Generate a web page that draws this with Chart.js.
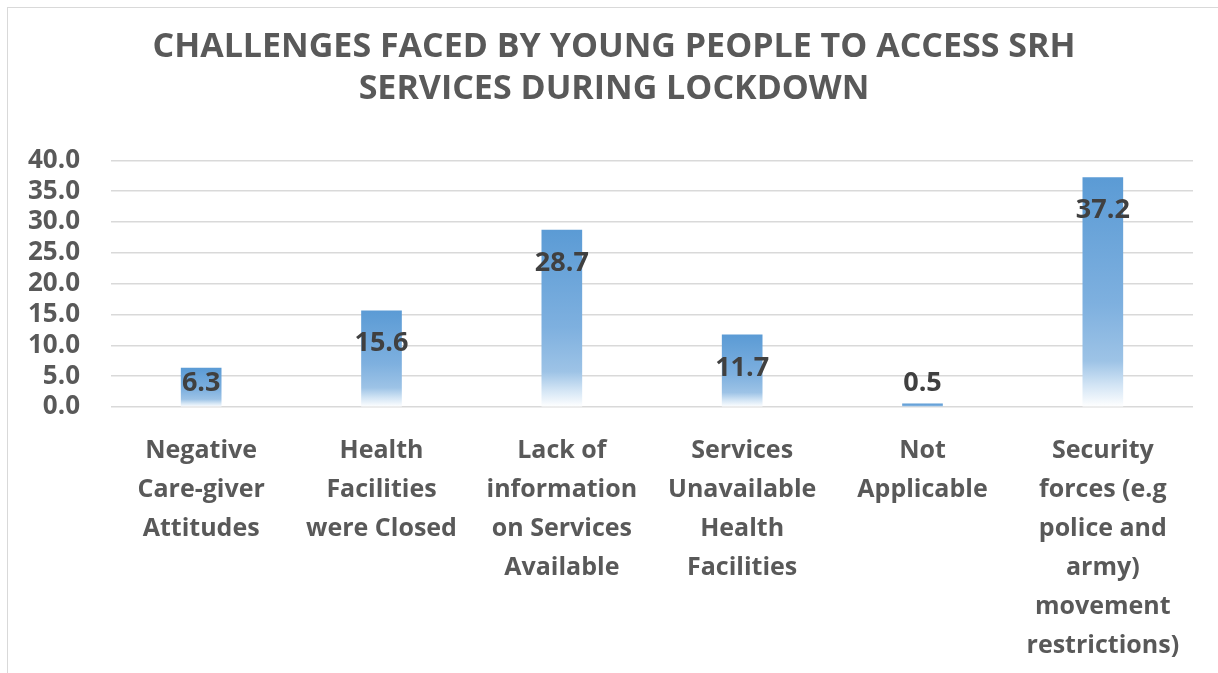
<!DOCTYPE html>
<html lang="en">
<head>
  <meta charset="UTF-8">
  <title>Challenges faced by young people to access SRH services during lockdown</title>
  <script src="https://cdn.jsdelivr.net/npm/chart.js"></script>
  <style>
    html, body { margin: 0; padding: 0; background: #fff; }
    canvas { display: block; }
  </style>
</head>
<body>
  <canvas id="chart" width="1218" height="673"></canvas>
  <script>
    const categories = [
      ['Negative', 'Care-giver', 'Attitudes'],
      ['Health', 'Facilities', 'were Closed'],
      ['Lack of', 'information', 'on Services', 'Available'],
      ['Services', 'Unavailable', 'Health', 'Facilities'],
      ['Not', 'Applicable'],
      ['Security', 'forces (e.g', 'police and', 'army)', 'movement', 'restrictions)']
    ];
    const values = [6.3, 15.6, 28.7, 11.7, 0.5, 37.2];
    const yTicks = [0, 5, 10, 15, 20, 25, 30, 35, 40];
    const titleLines = ['CHALLENGES FACED BY YOUNG PEOPLE TO ACCESS SRH', 'SERVICES DURING LOCKDOWN'];

    const FONT = "'Open Sans', 'Liberation Sans', sans-serif";

    // thin grey frame like the exported Excel chart
    const framePlugin = {
      id: 'frame',
      beforeDraw(chart) {
        const c = chart.ctx;
        c.save();
        c.fillStyle = '#fff';
        c.fillRect(0, 0, chart.width, chart.height);
        c.strokeStyle = '#d9d9d9';
        c.lineWidth = 1;
        c.strokeRect(7.5, 7.5, chart.width + 20, chart.height + 20);
        c.restore();
      }
    };

    // value labels, inside the top of each bar
    const valueLabels = {
      id: 'valueLabels',
      afterDatasetsDraw(chart) {
        const c = chart.ctx;
        const meta = chart.getDatasetMeta(0);
        const base = chart.scales.y.getPixelForValue(0);
        c.save();
        c.font = 'bold 27px ' + FONT;
        c.fillStyle = '#404040';
        c.textAlign = 'center';
        c.textBaseline = 'middle';
        meta.data.forEach((bar, i) => {
          const y = Math.min(bar.y + 33, base - 24);
          c.fillText(values[i].toFixed(1), bar.x, y);
        });
        c.restore();
      }
    };

    function barGradient(ctx) {
      const chart = ctx.chart;
      if (!chart.chartArea || ctx.raw === undefined) return '#5B9BD5';
      const ys = chart.scales.y;
      const top = ys.getPixelForValue(ctx.raw);
      const bottom = ys.getPixelForValue(0);
      const g = chart.ctx.createLinearGradient(0, top, 0, bottom);
      g.addColorStop(0, '#5B9BD5');
      g.addColorStop(0.55, '#7eb0df');
      g.addColorStop(0.8, '#9dc3e6');
      g.addColorStop(0.9, '#d0e3f4');
      g.addColorStop(1, '#ffffff');
      return g;
    }

    new Chart(document.getElementById('chart'), {
      type: 'bar',
      data: {
        labels: categories,
        datasets: [{
          data: values,
          backgroundColor: barGradient,
          borderWidth: 0,
          barThickness: 40
        }]
      },
      options: {
        responsive: false,
        animation: false,
        layout: { padding: { left: 10, top: 20, right: 0, bottom: 0 } },
        plugins: {
          legend: { display: false },
          tooltip: { enabled: false },
          title: {
            display: true,
            text: titleLines,
            color: '#595959',
            font: { family: FONT, size: 34, weight: 'bold', lineHeight: 1.24 },
            padding: { top: 6, bottom: 50 }
          }
        },
        scales: {
          x: {
            grid: { display: false },
            border: { display: false },
            ticks: {
              color: '#595959',
              font: { family: FONT, size: 25, weight: 'bold', lineHeight: 1.56 },
              autoSkip: false,
              maxRotation: 0,
              padding: 16
            },
            afterFit(scale) { scale.height = 266; }
          },
          y: {
            min: 0,
            max: 40,
            afterBuildTicks(scale) { scale.ticks = yTicks.map(v => ({ value: v })); },
            grid: { color: '#d9d9d9', lineWidth: 1.5, drawTicks: false },
            border: { display: false },
            ticks: {
              color: '#595959',
              font: { family: FONT, size: 26, weight: 'bold' },
              padding: 31,
              autoSkip: false,
              callback: v => Number(v).toFixed(1)
            },
            afterFit(scale) { scale.width = 101; }
          },
          // empty spacer on the right so the plot ends where the reference does
          spacer: {
            position: 'right',
            display: true,
            grid: { display: false },
            border: { display: false },
            ticks: { display: false },
            afterFit(scale) { scale.width = 25; }
          }
        }
      },
      plugins: [framePlugin, valueLabels]
    });
  </script>
</body>
</html>
